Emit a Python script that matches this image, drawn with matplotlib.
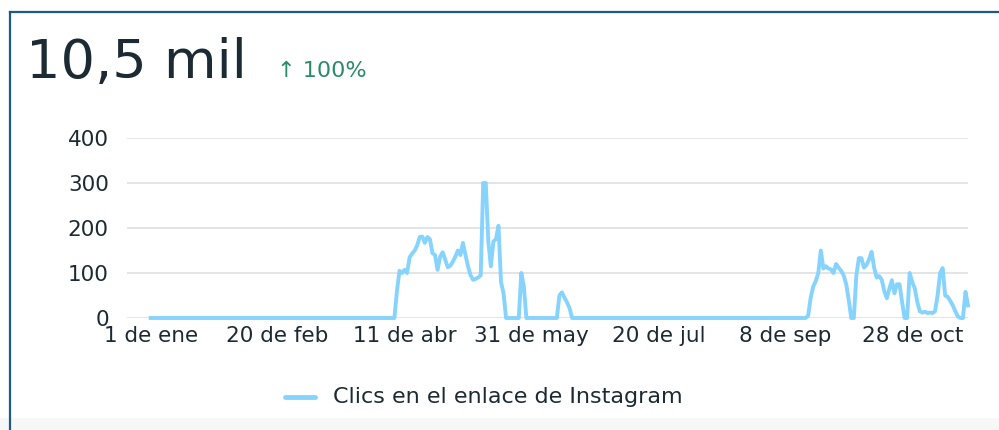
import matplotlib
matplotlib.use("Agg")
import matplotlib.pyplot as plt
import numpy as np

# daily clicks, day 0 = 1 de ene
n_days = 323
spring_start = 97
spring = [60, 105, 100, 107, 100, 135, 143, 150, 162, 180, 181, 167, 180, 175, 144,
          140, 107, 136, 146, 130, 113, 116, 125, 136, 150, 140, 167, 140, 115, 95,
          85, 87, 90, 95, 300, 300, 170, 115, 170, 175, 205, 80, 55]
may_start = 146
may_bump = [100, 70]
jun_start = 161
jun_bump = [50, 57, 45, 35, 22]
autumn_start = 259
autumn = [5, 45, 70, 82, 100, 150, 110, 115, 110, 108, 100, 120, 112, 105, 95,
          75, 40, 0, 0, 95, 133, 133, 112, 118, 130, 147, 112, 90, 93, 85,
          60, 44, 65, 84, 55, 75, 75, 36, 0, 0, 100, 80, 66, 36, 15,
          12, 14, 11, 12, 11, 15, 50, 100, 111, 50, 47, 38, 28, 15, 3,
          0, 0, 58, 28]

tick_days = [0, 50, 100, 150, 200, 250, 300]
tick_labels = ["1 de ene", "20 de feb", "11 de abr", "31 de may",
               "20 de jul", "8 de sep", "28 de oct"]
y_ticks = [0, 100, 200, 300, 400]

total_label = "10,5 mil"
change_label = "↑ 100%"
series_name = "Clics en el enlace de Instagram"

clicks = np.zeros(n_days)
for start, vals in [(spring_start, spring), (may_start, may_bump),
                    (jun_start, jun_bump), (autumn_start, autumn)]:
    clicks[start:start + len(vals)] = vals
days = np.arange(n_days)

plt.rcParams["font.family"] = ["DejaVu Sans"]
text_color = "#1c2b33"
line_color = "#86d3fd"

fig = plt.figure(figsize=(9.99, 4.30), dpi=100)
fig.patch.set_facecolor("white")

ax = fig.add_axes([0.127, 1 - 318 / 430, 0.969 - 0.127, 180 / 430])
ax.plot(days, clicks, color=line_color, lw=2.8, clip_on=False, solid_joinstyle="round")
ax.set_xlim(-9.4, 322)
ax.set_ylim(0, 400)
ax.set_yticks(y_ticks)
ax.set_xticks(tick_days)
ax.set_xticklabels(tick_labels)
ax.grid(axis="y", color="#e2e2e2", lw=1.3)
ax.set_axisbelow(True)
for s in ax.spines.values():
    s.set_visible(False)
ax.tick_params(length=0, labelsize=15.5, colors=text_color)
ax.tick_params(axis="y", pad=13)
ax.tick_params(axis="x", pad=6)

# header
fig.text(26 / 999, 1 - 78 / 430, total_label, fontsize=39, color=text_color, va="baseline")
fig.text(277 / 999, 1 - 77 / 430, change_label, fontsize=16, color="#2e8a6c", va="baseline")

# legend
fig.add_artist(plt.Line2D([285 / 999, 315 / 999], [1 - 397 / 430] * 2, color=line_color,
                          lw=3.5, solid_capstyle="round"))
fig.text(333 / 999, 1 - 397 / 430, series_name, fontsize=16, color=text_color, va="center")

# card border and bottom strip
fig.add_artist(plt.Rectangle((0, 0), 1, 12 / 430, color="#f7f7f7", lw=0, zorder=-1))
fig.add_artist(plt.Line2D([10 / 999, 1], [1 - 12 / 430] * 2, color="#1d5b87", lw=1.6))
fig.add_artist(plt.Line2D([10 / 999] * 2, [0, 1 - 12 / 430], color="#1d5b87", lw=1.6))

fig.savefig("out.png", dpi=100)
